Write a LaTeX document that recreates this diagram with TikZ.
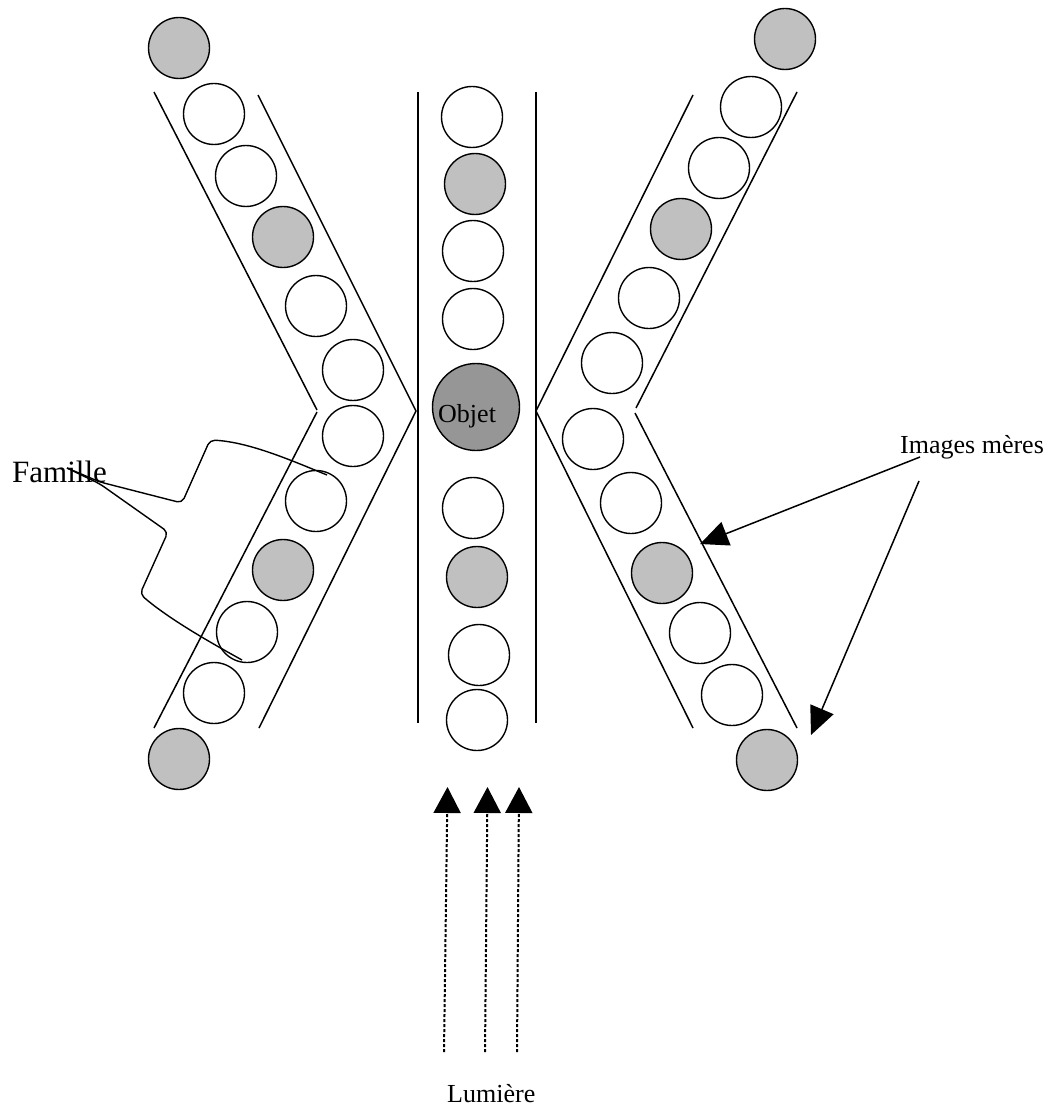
\documentclass[tikz,border=0pt]{standalone}
\usepackage{fontspec}
\setmainfont{Liberation Serif}
\usetikzlibrary{arrows.meta}
\definecolor{ballgray}{RGB}{192,192,192}
\definecolor{objgray}{RGB}{150,150,150}
\begin{document}
\begin{tikzpicture}[x=1pt,y=-1pt,
  ball/.style={circle,draw,line width=1.4pt,minimum size=61pt,inner sep=0pt,fill=white},
  gball/.style={ball,fill=ballgray},
  wall/.style={line width=1.5pt},
  lbl/.style={inner sep=0pt,anchor=base west,font=\fontsize{26}{30}\selectfont},
  ray/.style={line width=2pt,dash pattern=on 3pt off 2pt,-{Triangle[length=26pt,width=27pt]}},
  ptr/.style={line width=1.5pt,-{Triangle[length=28pt,width=25pt]}},
  brace/.style={line width=1.4pt,rounded corners=5pt}]
\useasboundingbox (0,0) rectangle (1051,1110);

% ---- left band
\draw[wall] (154,92) -- (317,410);
\draw[wall] (317,412) -- (154,728);
\draw[wall] (258,95) -- (416,411) -- (259,728);
\node[gball] (l1) at (179,48) {};
\node[ball]  (l2) at (214,114) {};
\node[ball]  (l3) at (246,176) {};
\node[gball] (l4) at (283,237) {};
\node[ball]  (l5) at (316,306) {};
\node[ball]  (l6) at (353,370) {};
\node[ball]  (l7) at (353,436) {};
\node[ball]  (l8) at (316,501) {};
\node[gball] (l9) at (283,570) {};
\node[ball]  (l10) at (247,632) {};
\node[ball]  (l11) at (214,693) {};
\node[gball] (l12) at (179,759) {};

% ---- central column
\draw[wall] (418,92) -- (418,723);
\draw[wall] (536,92) -- (536,723);
\node[ball]  (c1) at (472,117) {};
\node[gball] (c2) at (475,184) {};
\node[ball]  (c3) at (473,251) {};
\node[ball]  (c4) at (473,319) {};
\node[circle,draw,line width=1.4pt,minimum size=87pt,inner sep=0pt,fill=objgray] (obj) at (476,407) {};
\node[lbl] (objt) at (438,422) {Objet};
\node[ball]  (c5) at (473,508) {};
\node[gball] (c6) at (477,577) {};
\node[ball]  (c7) at (479,655) {};
\node[ball]  (c8) at (477,720) {};

% ---- right band
\draw[wall] (693,95) -- (536,411) -- (693,728);
\draw[wall] (797,92) -- (636,408);
\draw[wall] (635,413) -- (797,728);
\node[gball] (r1) at (785,39) {};
\node[ball]  (r2) at (751,107) {};
\node[ball]  (r3) at (719,168) {};
\node[gball] (r4) at (681,229) {};
\node[ball]  (r5) at (649,298) {};
\node[ball]  (r6) at (612,363) {};
\node[ball]  (r7) at (593,439) {};
\node[ball]  (r8) at (631,503) {};
\node[gball] (r9) at (662,573) {};
\node[ball]  (r10) at (700,633) {};
\node[ball]  (r11) at (732,695) {};
\node[gball] (r12) at (767,760) {};

% ---- Famille
\node[inner sep=0pt,anchor=base west,font=\fontsize{31}{36}\selectfont] (fam) at (12,482) {Famille};
\coordinate (btip) at (67,468);
\draw[brace] (btip) -- (100,482) -- (182,503) -- (210,440)
  .. controls (250,442) and (295,462) .. (327,475);
\draw[brace] (btip) -- (100,484) -- (168,532) -- (140,594)
  .. controls (170,620) and (215,645) .. (242,660);

% ---- Images meres
\node[lbl] (img) at (900,453) {Images mères};
\coordinate (a1s) at (920,457);
\coordinate (a2s) at (919,481);
\coordinate (a1e) at (700,544);
\coordinate (a2e) at (811,735);
\draw[ptr] (a1s) -- (a1e);
\draw[ptr] (a2s) -- (a2e);

% ---- Lumiere
\node[lbl] (lum) at (447,1102) {Lumière};
\coordinate (s1) at (444,1052); \coordinate (t1) at (447.5,787);
\coordinate (s2) at (485,1052); \coordinate (t2) at (487.5,787);
\coordinate (s3) at (517,1052); \coordinate (t3) at (519,787);
\draw[ray] (s1) -- (t1);
\draw[ray] (s2) -- (t2);
\draw[ray] (s3) -- (t3);
\end{tikzpicture}
\end{document}
